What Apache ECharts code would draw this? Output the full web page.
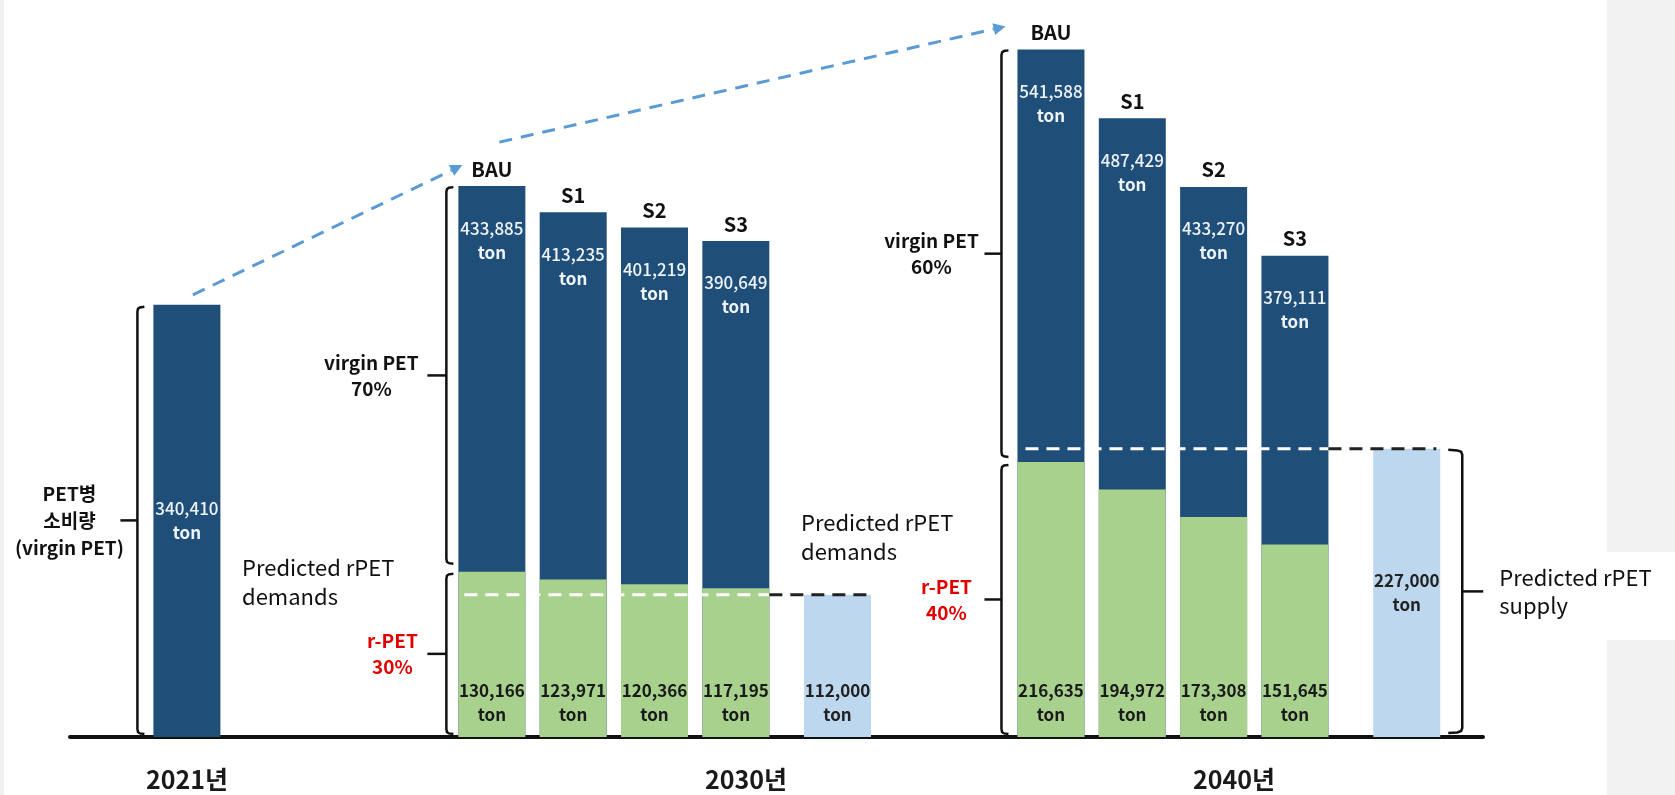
<!DOCTYPE html>
<html><head><meta charset="utf-8">
<script src="https://cdn.jsdelivr.net/npm/echarts@6/dist/echarts.min.js"></script>
<style>html,body{margin:0;padding:0;background:#fff}#c{width:1675px;height:795px}</style>
</head><body><div id="c"></div>
<script>
// ---------------- data ----------------
const years = ['2021년', '2030년', '2040년'];
const scenarios = ['BAU', 'S1', 'S2', 'S3'];
const consumption2021 = [340410];
const total2030 = [433885, 413235, 401219, 390649];
const rpet2030 = [130166, 123971, 120366, 117195];
const supply2030 = [112000];
const total2040 = [541588, 487429, 433270, 379111];
const rpet2040 = [216635, 194972, 173308, 151645];
const supply2040 = [227000];
const shareLabels2030 = ['virgin PET\n70%', 'r-PET\n30%'];
const shareLabels2040 = ['virgin PET\n60%', 'r-PET\n40%'];
const consumptionLabel = 'PET병\n소비량\n(virgin PET)';
const demandNote = 'Predicted rPET\ndemands';
const supplyNote = 'Predicted rPET\nsupply';
const unit = 'ton';

// ---------------- layout (category slots) ----------------
const SLOTS = 139;
const slot2021 = 11;
const slots2030 = [41, 49, 57, 65];
const slotSupply2030 = 75;
const slots2040 = [96, 104, 112, 120];
const slotSupply2040 = 131;
const yearSlots = [11, 66, 114];

const FONT = "'Noto Sans CJK KR', 'Noto Sans', sans-serif";
const DARK = '#1F4E79', GREEN = '#A9D18E', LIGHT = '#BDD7EE', RED = '#E00000', INK = '#111111';
const BAR_W = 67;
const fmt = v => Number(v).toLocaleString('en-US');

const cats = Array.from({length: SLOTS}, (_, i) => 's' + i);
const yearBySlot = {};
yearSlots.forEach((s, i) => { yearBySlot[s] = years[i]; });

const empty = () => new Array(SLOTS).fill('-');
const darkData = empty(), greenData = empty(), supplyData = empty(), nameData = empty();
const nameBySlot = {};
darkData[slot2021] = {value: consumption2021[0], label: {position: 'inside', distance: 0}};
slots2030.forEach((s, i) => { darkData[s] = total2030[i]; greenData[s] = rpet2030[i]; nameData[s] = total2030[i]; nameBySlot[s] = scenarios[i]; });
slots2040.forEach((s, i) => { darkData[s] = total2040[i]; greenData[s] = rpet2040[i]; nameData[s] = total2040[i]; nameBySlot[s] = scenarios[i]; });
supplyData[slotSupply2030] = supply2030[0];
supplyData[slotSupply2040] = {value: supply2040[0], label: {position: 'inside', distance: 0}};

const valueFormatter = p => `{n|${fmt(p.value)}}\n{t|${unit}}`;
const richFor = (color, numWeight) => ({
  n: {fontSize: 17, color, fontWeight: numWeight, lineHeight: 24, fontFamily: FONT},
  t: {fontSize: 17, color, fontWeight: 'bold', lineHeight: 24, fontFamily: FONT}
});

const option = {
  backgroundColor: '#ffffff',
  animation: false,
  textStyle: {fontFamily: FONT},
  grid: {left: 70, right: 192, top: 26, bottom: 58, containLabel: false},
  xAxis: {
    type: 'category', data: cats, boundaryGap: true,
    axisLine: {show: true, lineStyle: {color: INK, width: 4}},
    axisTick: {show: false}, splitLine: {show: false},
    axisLabel: {interval: 0, margin: 30, fontSize: 25, fontWeight: 'bold', color: '#1a1a1a', fontFamily: FONT,
      formatter: (v, i) => yearBySlot[i] || ''}
  },
  yAxis: {type: 'value', min: 0, max: 560000, show: false, splitLine: {show: false}},
  series: [
    {name: 'virgin PET', type: 'bar', data: darkData, barWidth: BAR_W, barGap: '-100%', z: 2,
      itemStyle: {color: DARK},
      label: {show: true, position: 'insideTop', distance: 30, formatter: valueFormatter, rich: richFor('#EEF3F8', 500)}},
    {name: 'r-PET', type: 'bar', data: greenData, barWidth: BAR_W, barGap: '-100%', z: 3,
      itemStyle: {color: GREEN},
      label: {show: true, position: 'insideBottom', distance: 10, formatter: valueFormatter, rich: richFor('#1a1a1a', 'bold')}},
    {name: 'rPET supply', type: 'bar', data: supplyData, barWidth: BAR_W, barGap: '-100%', z: 3,
      itemStyle: {color: LIGHT},
      label: {show: true, position: 'insideBottom', distance: 10, formatter: valueFormatter, rich: richFor('#222222', 'bold')}},
    {name: 'scenario', type: 'bar', data: nameData, barWidth: BAR_W, barGap: '-100%', z: 4, silent: true,
      itemStyle: {color: 'rgba(0,0,0,0)'},
      label: {show: true, position: 'top', distance: 7, formatter: p => nameBySlot[p.dataIndex] || '',
        fontSize: 20, fontWeight: 'bold', color: INK, fontFamily: FONT}}
  ]
};

const chart = echarts.init(document.getElementById('c'), null, {renderer: 'canvas'});
chart.setOption(option);

// ---------------- annotations positioned from the data ----------------
const P = (slot, v) => chart.convertToPixel({gridIndex: 0}, [slot, v]);
const half = BAR_W / 2;
const base = P(0, 0)[1];
const g = [];

// backgrounds
g.push({type: 'rect', z: -10, shape: {x: 0, y: 0, width: 4, height: 795}, style: {fill: '#f0f0f0'}});
g.push({type: 'rect', z: -10, shape: {x: 1607, y: 0, width: 68, height: 795}, style: {fill: '#f2f2f2'}});
g.push({type: 'rect', z: -9, shape: {x: 1607, y: 552, width: 68, height: 88}, style: {fill: '#ffffff'}});

function bracket(x, y1, y2, side, hook, tick) {
  // side = -1 : bracket on the left of bars (opens right), +1 : on the right (opens left)
  const ym = (y1 + y2) / 2, h = -side * hook;
  const pts = [[x + h, y1], [x + h * 0.35, y1 + 0.6], [x + h * 0.08, y1 + 2], [x, y1 + 5],
               [x, y2 - 5], [x + h * 0.08, y2 - 2], [x + h * 0.35, y2 - 0.6], [x + h, y2]];
  g.push({type: 'polyline', z: 50, shape: {points: pts}, style: {fill: null, stroke: INK, lineWidth: 2.5}});
  g.push({type: 'line', z: 50, shape: {x1: x, y1: ym, x2: x + side * tick, y2: ym}, style: {stroke: INK, lineWidth: 2.5}});
  return ym;
}
function text(x, y, str, opt) {
  g.push({type: 'text', z: 60, x, y, style: Object.assign({text: str, fontFamily: FONT, fontSize: 19, fontWeight: 'bold',
    fill: INK, align: 'center', verticalAlign: 'middle', lineHeight: 26}, opt || {})});
}
function dashed(x1, x2, y, color) {
  g.push({type: 'line', z: 55, shape: {x1, y1: y, x2, y2: y}, style: {stroke: color, lineWidth: 3, lineDash: [13, 8]}});
}
function arrow(x1, y1, x2, y2) {
  const dx = x2 - x1, dy = y2 - y1, L = Math.hypot(dx, dy), ux = dx / L, uy = dy / L, nx = -uy, ny = ux;
  const bx = x2 - ux * 12, by = y2 - uy * 12;
  g.push({type: 'line', z: 55, shape: {x1, y1, x2: bx, y2: by}, style: {stroke: '#5B9BD5', lineWidth: 3, lineDash: [13, 9]}});
  g.push({type: 'polygon', z: 55, shape: {points: [[x2, y2], [bx + nx * 6, by + ny * 6], [bx - nx * 6, by - ny * 6]]}, style: {fill: '#5B9BD5'}});
}

// 2021 bracket
{
  const c = P(slot2021, consumption2021[0]);
  const x = c[0] - half - 16;
  const ym = bracket(x, c[1] + 2, base - 3, -1, 7, 17);
  text(x - 17 - 51, ym, consumptionLabel, {lineHeight: 27});
}
// 2030 brackets
{
  const top = P(slots2030[0], total2030[0]);
  const gr = P(slots2030[0], rpet2030[0]);
  const x = top[0] - half - 12;
  const ym1 = bracket(x, top[1] + 1, gr[1] - 8, -1, 7, 19);
  text(x - 19 - 56, ym1, shareLabels2030[0]);
  const ym2 = bracket(x, gr[1] + 2, base - 3, -1, 7, 19);
  text(x - 19 - 35, ym2, shareLabels2030[1], {fill: RED});
  // supply level
  const sup = P(slotSupply2030, supply2030[0]);
  const s3 = P(slots2030[3], 0);
  dashed(top[0] - half + 6, s3[0] + half, sup[1], '#ffffff');
  dashed(s3[0] + half, sup[0] + half - 4, sup[1], '#222222');
}
// 2040 brackets
{
  const top = P(slots2040[0], total2040[0]);
  const gr = P(slots2040[0], rpet2040[0]);
  const x = top[0] - half - 16;
  const ym1 = bracket(x, top[1] + 1, gr[1] - 5, -1, 7, 17);
  text(x - 17 - 53, ym1, shareLabels2040[0]);
  const ym2 = bracket(x, gr[1] + 3, base - 3, -1, 7, 17);
  text(x - 17 - 38, ym2, shareLabels2040[1], {fill: RED});
  const sup = P(slotSupply2040, supply2040[0]);
  const s3 = P(slots2040[3], 0);
  dashed(top[0] - half + 8, s3[0] + half, sup[1], '#ffffff');
  dashed(s3[0] + half, sup[0] + half - 4, sup[1], '#222222');
  // supply bracket on the right
  const xr = sup[0] + half + 22;
  const ym3 = bracket(xr, sup[1] + 1, base - 4, 1, 14, 21);
  text(xr + 21 + 16, ym3, supplyNote, {align: 'left', fontSize: 22, fontWeight: 'normal', lineHeight: 28});
}
// notes
text(242, 582, demandNote, {align: 'left', fontSize: 22, fontWeight: 'normal', lineHeight: 29});
text(801, 537, demandNote, {align: 'left', fontSize: 22, fontWeight: 'normal', lineHeight: 29});

// growth arrows
{
  const a = P(slot2021, consumption2021[0]);
  const b = P(slots2030[0], total2030[0]);
  const c = P(slots2040[0], total2040[0]);
  arrow(a[0] + 6, a[1] - 10, b[0] - half + 4, b[1] - 21);
  arrow(b[0] - half + 41, b[1] - 44, c[0] - half - 12, c[1] - 23);
}

chart.setOption({graphic: {elements: g}});
</script>
</body></html>
